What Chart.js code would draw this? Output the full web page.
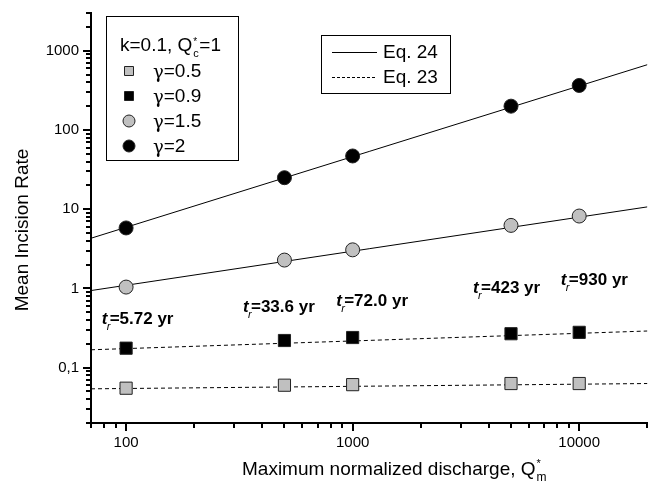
<!DOCTYPE html>
<html>
<head>
<meta charset="utf-8">
<script src="https://cdn.jsdelivr.net/npm/chart.js@4.4.1/dist/chart.umd.min.js"></script>
<style>
  html, body { margin: 0; padding: 0; background: #fff; }
</style>
</head>
<body>
<canvas id="chart" width="657" height="483"></canvas>
<script>
"use strict";

const discharge = [100, 500, 1000, 5000, 10000];
const rateG05 = [0.055, 0.060, 0.061, 0.063, 0.063];
const rateG09 = [0.176, 0.22, 0.24, 0.268, 0.279];
const rateG15 = [1.04, 2.28, 3.07, 6.25, 8.2];
const rateG2 = [5.8, 25, 47, 200, 365];

// model curves, read at both ends of the x axis
const curveX = [70, 20000];
const eq24G15 = [0.94, 10.7];
const eq24G2 = [4.3, 668];
const eq23G05 = [0.054, 0.063];
const eq23G09 = [0.168, 0.29];

// recurrence time labels and where they sit (data units)
const recurrence = ["5.72", "33.6", "72.0", "423", "930"];
const recurrenceX = [78, 328, 846, 3400, 8300];
const recurrenceY = [0.42, 0.6, 0.71, 1.03, 1.33];

const xTicks = [100, 1000, 10000];
const yTicks = [0.1, 1, 10, 100, 1000];
const yTickLabels = ["0,1", "1", "10", "100", "1000"];
const minorSteps = [2, 3, 4, 5, 6, 7, 8, 9];

const FONT = "'Liberation Sans', Arial, sans-serif";
const GREEK = "'DejaVu Serif', 'Liberation Serif', serif";
const GREY = "#c0c0c0";

const pts = (xs, ys) => xs.map((x, i) => ({ x, y: ys[i] }));

function marker(ctx, style, fill, x, y) {
  ctx.beginPath();
  if (style === "rect") ctx.rect(x - 4.5, y - 4.5, 9, 9);
  else ctx.arc(x, y, 6, 0, Math.PI * 2);
  ctx.fillStyle = fill;
  ctx.fill();
  ctx.strokeStyle = "#222";
  ctx.lineWidth = 1;
  ctx.stroke();
}

const decor = {
  id: "decor",
  afterDraw(chart) {
    const ctx = chart.ctx;
    const xs = chart.scales.x, ys = chart.scales.y;
    const area = chart.chartArea;
    ctx.save();

    // minor ticks, pointing outwards
    ctx.strokeStyle = "#000";
    ctx.lineWidth = 2;
    ctx.setLineDash([]);
    for (let e = -2; e <= 4; e++) {
      minorSteps.forEach(m => {
        const v = m * Math.pow(10, e);
        if (v >= 69.9 && v <= 20001) {
          const px = Math.round(xs.getPixelForValue(v));
          ctx.beginPath();
          ctx.moveTo(px, area.bottom);
          ctx.lineTo(px, area.bottom + 5);
          ctx.stroke();
        }
        if (v >= 0.0199 && v <= 3001) {
          const py = Math.round(ys.getPixelForValue(v));
          ctx.beginPath();
          ctx.moveTo(area.left, py);
          ctx.lineTo(area.left - 5, py);
          ctx.stroke();
        }
      });
    }

    ctx.fillStyle = "#000";
    ctx.textBaseline = "alphabetic";

    // axis titles
    ctx.font = "19px " + FONT;
    ctx.textAlign = "left";
    const xt = "Maximum normalized discharge, Q";
    ctx.fillText(xt, 242, 475);
    const xe = 242 + ctx.measureText(xt).width;
    ctx.font = "11px " + FONT;
    ctx.fillText("*", xe + 1, 467);
    ctx.font = "12px " + FONT;
    ctx.fillText("m", xe + 1, 481);

    ctx.save();
    ctx.translate(28, 230);
    ctx.rotate(-Math.PI / 2);
    ctx.font = "19px " + FONT;
    ctx.textAlign = "center";
    ctx.fillText("Mean Incision Rate", 0, 0);
    ctx.restore();

    // recurrence labels
    recurrence.forEach((t, i) => {
      const x = xs.getPixelForValue(recurrenceX[i]);
      const y = ys.getPixelForValue(recurrenceY[i]) + 6;
      ctx.textAlign = "left";
      ctx.font = "italic bold 17px " + FONT;
      ctx.fillText("t", x, y);
      ctx.font = "italic 11px " + FONT;
      ctx.fillText("r", x + 5, y + 6);
      ctx.font = "bold 17px " + FONT;
      ctx.fillText("=" + t + " yr", x + 8, y);
    });

    // legend with marker styles
    ctx.lineWidth = 1;
    ctx.strokeStyle = "#000";
    ctx.strokeRect(106.5, 16.5, 132, 144);
    ctx.fillStyle = "#000";
    ctx.font = "19px " + FONT;
    ctx.textAlign = "left";
    const head = "k=0.1, Q";
    ctx.fillText(head, 120, 51);
    const he = 120 + ctx.measureText(head).width;
    ctx.font = "10px " + FONT;
    ctx.fillText("*", he + 1, 45);
    ctx.font = "11px " + FONT;
    ctx.fillText("c", he + 1, 57);
    ctx.font = "19px " + FONT;
    ctx.fillText("=1", he + 7, 51);

    const entries = [
      ["rect", GREY, "0.5", 71],
      ["rect", "#000", "0.9", 96],
      ["circle", GREY, "1.5", 121],
      ["circle", "#000", "2", 146]
    ];
    entries.forEach(([style, fill, label, y]) => {
      marker(ctx, style, fill, 129, y);
      ctx.fillStyle = "#000";
      ctx.textBaseline = "middle";
      ctx.font = "18px " + GREEK;
      ctx.fillText("\u03b3", 153, y + 2);
      const gw = ctx.measureText("\u03b3").width;
      ctx.font = "19px " + FONT;
      ctx.fillText("=" + label, 153 + gw, y + 1);
      ctx.textBaseline = "alphabetic";
    });

    // legend with line styles
    ctx.lineWidth = 1;
    ctx.strokeStyle = "#000";
    ctx.strokeRect(321.5, 35.5, 129, 58);
    ctx.beginPath();
    ctx.moveTo(332, 52.5);
    ctx.lineTo(377, 52.5);
    ctx.stroke();
    ctx.setLineDash([3, 2]);
    ctx.beginPath();
    ctx.moveTo(332, 77.5);
    ctx.lineTo(377, 77.5);
    ctx.stroke();
    ctx.setLineDash([]);
    ctx.fillStyle = "#000";
    ctx.font = "19px " + FONT;
    ctx.textBaseline = "middle";
    ctx.fillText("Eq. 24", 383, 53);
    ctx.fillText("Eq. 23", 383, 78);

    ctx.restore();
  }
};

const pointSet = (data, style, fill) => ({
  data: pts(discharge, data),
  pointStyle: style,
  pointRadius: style === "rect" ? 8.6 : 7,
  backgroundColor: fill,
  borderColor: "#222",
  borderWidth: 1,
  showLine: false,
  order: 0
});

const lineSet = (data, dash) => ({
  data: pts(curveX, data),
  showLine: true,
  pointRadius: 0,
  borderColor: "#000",
  borderWidth: 1,
  borderDash: dash,
  order: 1
});

const axisCommon = {
  type: "logarithmic",
  grid: { drawOnChartArea: false, color: "#000", lineWidth: 2, tickLength: 8 },
  border: { color: "#000", width: 2 }
};

new Chart(document.getElementById("chart"), {
  type: "scatter",
  data: {
    datasets: [
      pointSet(rateG05, "rect", GREY),
      pointSet(rateG09, "rect", "#000"),
      pointSet(rateG15, "circle", GREY),
      pointSet(rateG2, "circle", "#000"),
      lineSet(eq24G15, []),
      lineSet(eq24G2, []),
      lineSet(eq23G05, [4, 3]),
      lineSet(eq23G09, [4, 3])
    ]
  },
  options: {
    responsive: false,
    animation: false,
    events: [],
    layout: { padding: { top: 7, right: 9, left: 0, bottom: 0 } },
    plugins: { legend: { display: false }, tooltip: { enabled: false } },
    scales: {
      x: {
        ...axisCommon,
        min: 70,
        max: 20000,
        afterBuildTicks: s => { s.ticks = xTicks.map(v => ({ value: v })); },
        afterFit: s => { s.height = 60; },
        ticks: {
          callback: v => String(v),
          font: { family: FONT, size: 15 },
          color: "#000",
          padding: 3,
          maxRotation: 0,
          autoSkip: false
        }
      },
      y: {
        ...axisCommon,
        min: 0.02,
        max: 3000,
        afterBuildTicks: s => { s.ticks = yTicks.map(v => ({ value: v })); },
        afterFit: s => { s.width = 91; },
        ticks: {
          callback: v => yTickLabels[yTicks.indexOf(v)],
          font: { family: FONT, size: 15 },
          color: "#000",
          padding: 4,
          autoSkip: false
        }
      }
    }
  },
  plugins: [decor]
});
</script>
</body>
</html>
